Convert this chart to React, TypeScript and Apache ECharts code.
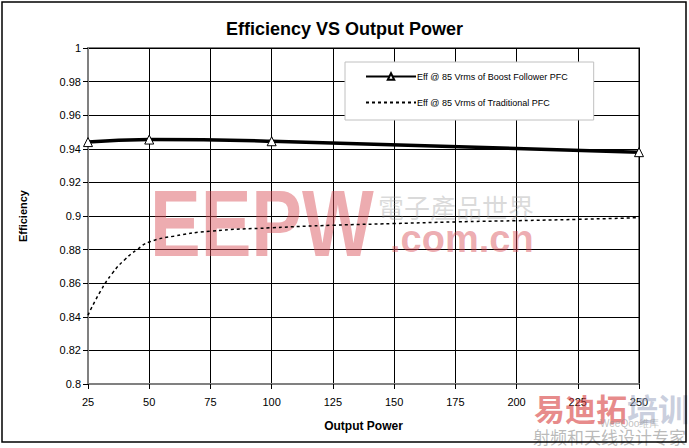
import React, { useEffect, useRef } from "react";
import * as echarts from "echarts";

const titleText = "Efficiency VS Output Power";
const xAxisName = "Output Power";
const yAxisName = "Efficiency";
const seriesNames = [
  "Eff @ 85 Vrms of Boost Follower PFC",
  "Eff @ 85 Vrms of Traditional PFC",
];
const boostX = [25, 50, 100, 250];
const boostY = [0.944, 0.9455, 0.9445, 0.938];
const tradX = [25, 30, 35, 40, 45, 50, 60, 75, 100, 125, 150, 175, 200, 225, 250];
const tradY = [0.841, 0.855, 0.866, 0.874, 0.88, 0.8845, 0.888, 0.891, 0.893, 0.8945, 0.8955, 0.8965, 0.8972, 0.898, 0.899];

export default function App() {
  const ref = useRef<HTMLDivElement>(null);
  useEffect(() => {
    if (!ref.current) return;
    const chart = echarts.init(ref.current, undefined, { renderer: "svg" });
    const font = "Liberation Sans, Arial, sans-serif";
    chart.setOption({
      animation: false,
      backgroundColor: "#fff",
      title: {
        text: titleText,
        left: "center",
        top: 15,
        textStyle: { fontFamily: font, fontSize: 18, fontWeight: "bold", color: "#000" },
      },
      grid: {
        left: 88,
        right: 50,
        top: 48,
        bottom: 64,
        show: true,
        borderColor: "#808080",
        borderWidth: 2,
        backgroundColor: "transparent",
      },
      legend: {
        orient: "vertical",
        left: 345,
        top: 62,
        padding: [10, 26, 13, 20],
        itemGap: 17,
        itemWidth: 50,
        itemHeight: 8,
        backgroundColor: "#fff",
        borderColor: "#c0c0c0",
        borderWidth: 1,
        textStyle: { fontFamily: font, fontSize: 9, color: "#000", padding: [0, 0, 0, -4] },
        data: [
          { name: seriesNames[0] },
          { name: seriesNames[1], itemStyle: { opacity: 0 } },
        ],
      },
      xAxis: {
        type: "value",
        min: 25,
        max: 250,
        interval: 25,
        name: xAxisName,
        nameLocation: "middle",
        nameGap: 36,
        nameTextStyle: { fontFamily: font, fontSize: 12, fontWeight: "bold", color: "#000" },
        axisLine: { show: true, lineStyle: { color: "#808080", width: 2 } },
        axisTick: { show: true, length: 5, lineStyle: { color: "#000" } },
        axisLabel: { fontFamily: font, fontSize: 11, color: "#000", margin: 12 },
        splitLine: { show: true, lineStyle: { color: "#000", width: 1 } },
      },
      yAxis: {
        type: "value",
        min: 0.8,
        max: 1,
        interval: 0.02,
        name: yAxisName,
        nameLocation: "middle",
        nameGap: 60,
        nameTextStyle: { fontFamily: font, fontSize: 11, fontWeight: "bold", color: "#000" },
        axisLine: { show: true, lineStyle: { color: "#808080", width: 2 } },
        axisTick: { show: true, length: 5, lineStyle: { color: "#000" } },
        axisLabel: {
          fontFamily: font,
          fontSize: 11,
          color: "#000",
          margin: 7,
          formatter: (v: number) => String(Math.round(v * 100) / 100),
        },
        splitLine: { show: true, lineStyle: { color: "#000", width: 1 } },
      },
      graphic: [
        {
          type: "rect",
          shape: { x: 2, y: 2, width: 684, height: 440 },
          style: { fill: "none", stroke: "#000", lineWidth: 1.5 },
          z: 100,
        },
        {
          type: "text",
          x: 150,
          y: 175,
          scaleY: 1.25,
          style: { text: "EEPW", font: "bold 76px Liberation Sans, Arial", fill: "rgba(215,70,80,0.45)" },
          z: 1,
        },
        {
          type: "text",
          x: 390,
          y: 220,
          style: { text: ".com.cn", font: "bold 38px Liberation Sans, Arial", fill: "rgba(215,70,80,0.45)" },
          z: 1,
        },
        {
          type: "text",
          x: 378,
          y: 193,
          style: { text: "電子產品世界", font: "26px Noto Sans CJK TC", fill: "rgba(150,150,150,0.35)" },
          z: 1,
        },
        {
          type: "text",
          x: 534,
          y: 392,
          style: { text: "易迪拓", font: "bold 31px Noto Sans CJK SC", fill: "rgba(215,60,60,0.6)" },
          z: 1,
        },
        {
          type: "text",
          x: 627,
          y: 392,
          style: { text: "培训", font: "bold 31px Noto Sans CJK SC", fill: "rgba(150,160,190,0.5)" },
          z: 1,
        },
        {
          type: "text",
          x: 600,
          y: 418,
          style: { text: "WeeQoo维库", font: "10px Liberation Sans", fill: "rgba(150,150,150,0.6)" },
          z: 1,
        },
        {
          type: "text",
          x: 533,
          y: 428,
          style: { text: "射频和天线设计专家", font: "17px Noto Sans CJK SC", fill: "rgba(140,140,140,0.6)" },
          z: 1,
        },
      ],
      series: [
        {
          name: seriesNames[0],
          type: "line",
          smooth: true,
          data: boostX.map((x, i) => [x, boostY[i]]),
          symbol: "triangle",
          symbolSize: 9,
          itemStyle: { color: "#fff", borderColor: "#000", borderWidth: 1 },
          lineStyle: { color: "#000", width: 3.5 },
          z: 5,
        },
        {
          name: seriesNames[1],
          type: "line",
          smooth: true,
          data: tradX.map((x, i) => [x, tradY[i]]),
          showSymbol: false,
          symbol: "none",
          itemStyle: { color: "#000" },
          lineStyle: { color: "#000", width: 1.5, type: [3, 3] },
          z: 5,
        },
      ],
    });
    return () => chart.dispose();
  }, []);
  return <div ref={ref} style={{ width: 689, height: 448, position: "absolute", left: 0, top: 0 }} />;
}
